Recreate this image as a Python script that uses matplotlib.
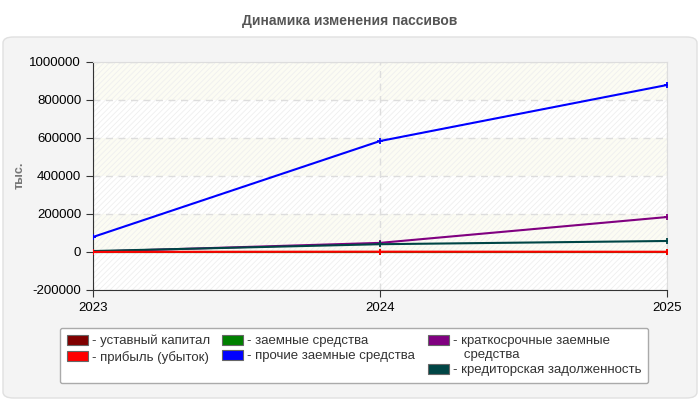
import matplotlib
matplotlib.use('Agg')
import matplotlib.pyplot as plt
from matplotlib.patches import FancyBboxPatch, Patch
import numpy as np

plt.rcParams['font.family'] = ['Liberation Sans', 'DejaVu Sans']
plt.rcParams['hatch.linewidth'] = 0.6

years = [2023, 2024, 2025]
labels = ['- уставный капитал', '- прибыль (убыток)',
          '- заемные средства', '- прочие заемные средства',
          '- краткосрочные заемные\n   средства', '- кредиторская задолженность']
colors = ['#800000', '#ff0000', '#008000', '#0000ff', '#800080', '#004545']

ustav = [100, 100, 100]
pribyl = [500, 1500, 1000]
zaem = [0, 0, 0]
prochie = [79000, 584000, 879000]
kratk = [2000, 48000, 184000]
kredit = [5000, 41000, 58000]
series = [ustav, pribyl, zaem, prochie, kratk, kredit]

yticks = [-200000, 0, 200000, 400000, 600000, 800000, 1000000]

fig = plt.figure(figsize=(7, 4), dpi=100)
fig.patch.set_facecolor('white')

# outer panel
panel = FancyBboxPatch((3 / 700, 2 / 400), 694 / 700, 361 / 400,
                       boxstyle='round,pad=0,rounding_size=0.015',
                       transform=fig.transFigure, fc='#f4f4f4', ec='#e0e0e0', lw=1,
                       zorder=-10)
fig.patches.append(panel)

fig.text(0.5, 0.948, 'Динамика изменения пассивов', ha='center', va='center',
         fontsize=10, fontweight='bold', color='#555555')
fig.text(20 / 700, 1 - 175 / 400, 'тыс.', rotation=90, ha='center', va='center',
         fontsize=9, fontweight='bold', color='#777777')

ax = fig.add_axes([93 / 700, 110 / 400, 574 / 700, 228 / 400])
ax.set_facecolor('white')
ax.set_xlim(2023, 2025)
ax.set_ylim(-200000, 1000000)

# alternating bands, all hatched faintly
for i in range(len(yticks) - 1):
    fc = '#fcfcf3' if i % 2 == 1 else 'white'
    ax.axhspan(yticks[i], yticks[i + 1], fc=fc, lw=0, zorder=0)
    ax.axhspan(yticks[i], yticks[i + 1], fc='none', ec='#efefef',
               hatch='//////', lw=0, zorder=0.1)

ax.set_yticks(yticks)
ax.set_yticklabels([str(v) for v in yticks])
ax.set_xticks(years)
ax.set_xticklabels([str(y) for y in years])
ax.tick_params(axis='both', labelsize=9.5, colors='#333333', length=5, labelcolor='black')
ax.grid(True, ls=(0, (5, 4)), color='#dddddd', lw=1, zorder=1)
ax.set_axisbelow(True)
for s in ['top', 'right']:
    ax.spines[s].set_color('#dddddd')
for s in ['left', 'bottom']:
    ax.spines[s].set_color('#333333')

zorders = [4, 9, 5, 6, 7, 8]
for i in range(len(series)):
    ax.plot(years, series[i], color=colors[i], lw=1.5, marker='+', ms=4, mew=1.3,
            zorder=zorders[i])

handles = [Patch(fc=c, ec='#666666', lw=0.8) for c in colors]
leg = fig.legend(handles, labels, ncol=3, loc='upper left',
                 bbox_to_anchor=(53 / 700, 21 / 400, 602 / 700, 58 / 400),
                 mode='expand', fontsize=9.5, frameon=True, fancybox=True,
                 handlelength=1.6, handleheight=0.8, handletextpad=0.3,
                 columnspacing=1.0, labelspacing=0.25, borderpad=0.55,
                 alignment='left')
# columns and handle/text pairs aligned at top like the original
leg._legend_handle_box.align = 'top'
for col in leg._legend_handle_box.get_children():
    for item in col.get_children():
        item.align = 'top'
leg.get_frame().set_edgecolor('#aaaaaa')
leg.get_frame().set_facecolor('white')
leg.get_frame().set_alpha(1)
for t in leg.get_texts():
    t.set_color('#333333')
    t.set_linespacing(1.2)

fig.savefig('out.png', dpi=100)
